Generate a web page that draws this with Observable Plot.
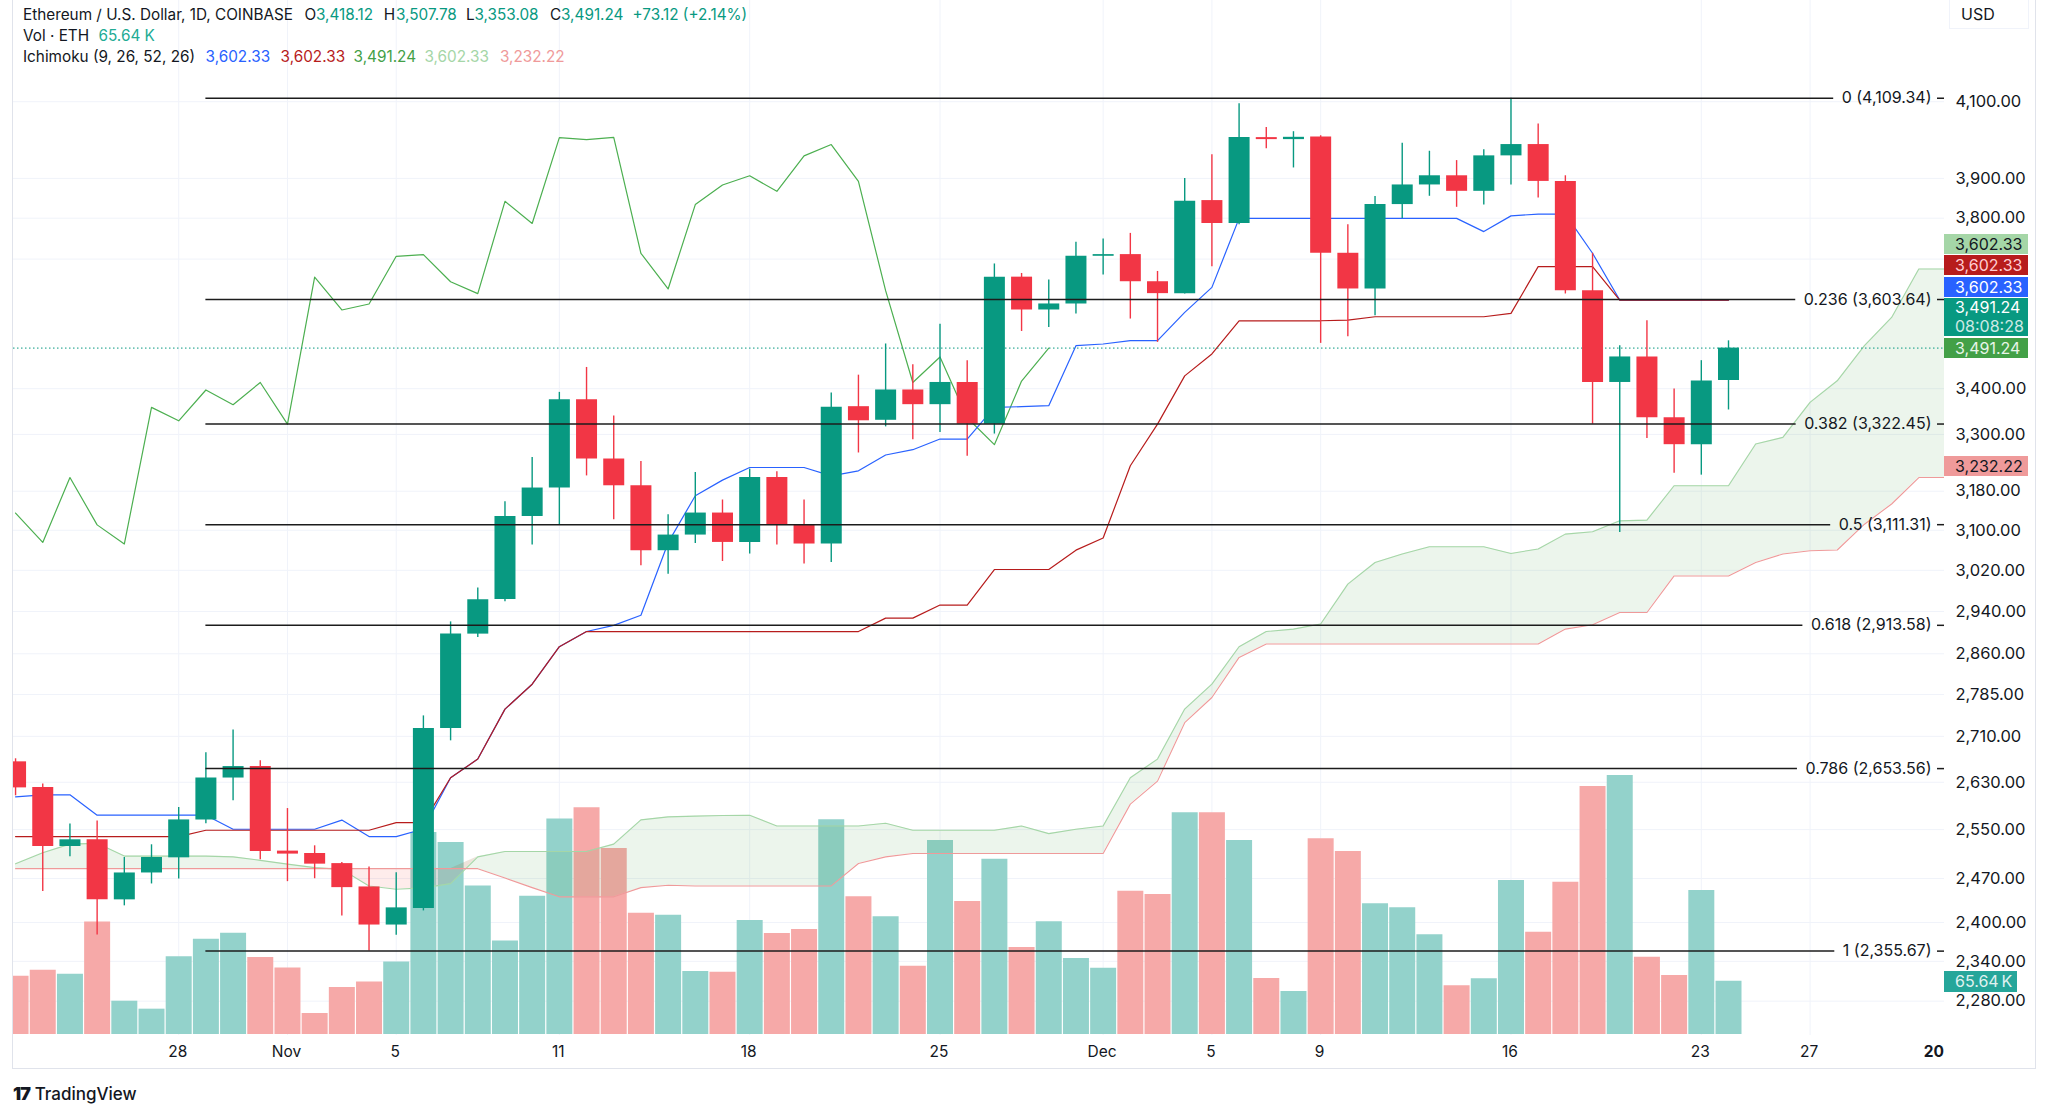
<!DOCTYPE html>
<html>
<head>
<meta charset="utf-8">
<title>Ethereum / U.S. Dollar, 1D</title>
<script src="https://cdn.jsdelivr.net/npm/d3@7"></script>
<script src="https://cdn.jsdelivr.net/npm/@observablehq/plot@0.6"></script>
<style>
  html, body { margin: 0; padding: 0; background: #ffffff; }
  #wrap { position: relative; width: 2048px; height: 1116px; overflow: hidden; font-family: Inter, "Noto Sans", sans-serif; color: #131722; }
  #wrap > svg { position: absolute; left: 0; top: 0; }
  .t { position: absolute; white-space: nowrap; font-size: 15.3px; line-height: 20px; }
  .box { position: absolute; left: 1944px; width: 84px; box-sizing: border-box; padding-left: 11px; font-size: 16px; line-height: 20px; white-space: nowrap; }
</style>
</head>
<body>
<div id="wrap"></div>
<script>
// ---------------- DATA ----------------
const dates = d3.utcDay.range(new Date(Date.UTC(2024, 9, 22)), new Date(Date.UTC(2024, 11, 25)));     // Oct 22 .. Dec 24
const leadDates = d3.utcDay.range(new Date(Date.UTC(2024, 9, 22)), new Date(Date.UTC(2025, 0, 2)));   // Oct 22 .. Jan 1

const open = [2665.3, 2620.9, 2522.1, 2533.1, 2435.8, 2478.9, 2503.5, 2566.2, 2637.3, 2657.1,
  2514.5, 2510.6, 2494.1, 2456.4, 2396.1, 2422.0, 2723.7, 2896.9, 2963.2, 3128.0,
  3186.6, 3375.7, 3247.5, 3191.3, 3058.9, 3090.3, 3135.0, 3075.5, 3208.5, 3110.9,
  3072.3, 3360.3, 3330.6, 3397.1, 3364.7, 3413.8, 3322.2, 3656.6, 3579.1, 3593.2,
  3706.7, 3710.8, 3645.7, 3617.5, 3843.9, 3786.9, 4005.1, 3999.9, 4006.9, 3714.0,
  3628.5, 3833.9, 3883.3, 3906.6, 3867.2, 3957.7, 3987.0, 3892.3, 3624.5, 3413.8,
  3471.1, 3336.1, 3278.0, 3418.12];
const high = [2670.6, 2627.2, 2559.4, 2564.5, 2504.0, 2524.9, 2587.0, 2681.1, 2721.4, 2667.1,
  2585.3, 2523.2, 2495.8, 2488.7, 2479.4, 2746.4, 2920.1, 2985.2, 3158.3, 3250.9,
  3391.8, 3447.4, 3339.8, 3242.4, 3131.5, 3219.0, 3161.8, 3226.2, 3220.4, 3161.8,
  3390.5, 3430.1, 3500.6, 3453.5, 3546.2, 3462.7, 3688.2, 3665.4, 3649.6, 3740.7,
  3748.9, 3762.5, 3670.2, 3899.9, 3960.3, 4094.4, 4031.7, 4020.6, 4010.0, 3783.6,
  3853.9, 3990.3, 3969.6, 3945.5, 3973.2, 4109.34, 4040.6, 3906.6, 3714.0, 3496.8,
  3554.0, 3399.3, 3462.7, 3507.78];
const low = [2606.9, 2449.0, 2505.1, 2380.7, 2426.3, 2461.2, 2469.2, 2559.9, 2598.4, 2500.2,
  2464.9, 2469.6, 2410.4, 2355.67, 2380.2, 2418.3, 2702.1, 2890.6, 2958.8, 3070.3,
  3110.9, 3211.9, 3121.2, 3028.9, 3012.4, 3073.5, 3037.5, 3052.3, 3070.3, 3032.3,
  3035.5, 3260.3, 3316.3, 3288.6, 3304.2, 3253.1, 3300.8, 3529.3, 3538.4, 3569.7,
  3661.5, 3558.0, 3504.3, 3616.7, 3681.7, 3783.6, 3975.8, 3926.6, 3502.0, 3517.3,
  3565.8, 3799.5, 3854.7, 3827.1, 3833.1, 3883.3, 3850.7, 3616.7, 3322.2, 3095.4,
  3291.4, 3217.7, 3213.5, 3353.08];
const close = [2620.4, 2522.1, 2533.1, 2435.8, 2478.9, 2504.0, 2566.2, 2637.3, 2657.1, 2513.9,
  2509.6, 2493.2, 2455.3, 2396.1, 2423.1, 2723.7, 2896.9, 2962.6, 3128.0, 3186.6,
  3375.7, 3247.5, 3191.3, 3058.9, 3090.3, 3135.0, 3075.5, 3208.5, 3110.9, 3072.3,
  3358.8, 3329.5, 3397.1, 3364.7, 3413.8, 3322.2, 3656.6, 3579.1, 3593.2, 3706.7,
  3710.8, 3645.7, 3617.5, 3842.1, 3786.9, 4005.1, 3999.9, 4005.9, 3714.0, 3628.5,
  3833.9, 3883.3, 3906.6, 3867.2, 3957.7, 3987.0, 3892.3, 3624.5, 3413.8, 3471.1,
  3336.1, 3278.0, 3416.9, 3491.24];
const volumeK = [71.8, 79.2, 74.3, 138.7, 41.0, 31.2, 95.6, 117.4, 124.8, 94.8,
  82.0, 25.9, 57.9, 64.8, 89.4, 248.8, 236.4, 183.0, 115.3, 170.3,
  265.5, 279.1, 229.1, 149.4, 146.9, 77.6, 76.7, 140.4, 124.4, 129.3,
  264.4, 169.6, 144.9, 84.1, 238.9, 163.8, 215.9, 107.1, 138.8, 93.6,
  81.6, 176.5, 172.4, 273.0, 273.0, 238.9, 69.0, 53.0, 241.0, 225.4,
  161.0, 156.0, 122.8, 60.0, 68.6, 189.7, 126.0, 187.6, 305.4, 319.0,
  95.2, 72.7, 177.3, 65.64];

// Ichimoku (9, 26, 52, 26)
const conversion = [2605.2, 2608.6, 2608.6, 2574.1, 2574.1, 2574.1, 2574.1, 2574.1, 2550.6, 2550.6,
  2550.6, 2550.6, 2565.9, 2538.5, 2538.5, 2551.0, 2637.8, 2670.1, 2758.6, 2803.8,
  2873.2, 2901.8, 2913.6, 2932.9, 3075.0, 3170.7, 3203.1, 3229.6, 3229.6, 3229.6,
  3211.9, 3222.6, 3256.0, 3267.3, 3290.1, 3290.1, 3358.8, 3360.3, 3362.5, 3496.8,
  3500.6, 3508.2, 3508.2, 3573.5, 3632.3, 3799.5, 3799.5, 3799.5, 3799.5, 3799.5,
  3799.5, 3799.5, 3799.5, 3799.5, 3766.9, 3805.7, 3810.3, 3810.0, 3714.0, 3602.33,
  3602.33, 3602.33, 3602.33, 3602.33];
const baseLine = [2538.5, 2538.5, 2538.5, 2538.5, 2538.5, 2538.5, 2538.5, 2549.0, 2549.0, 2549.0,
  2549.0, 2549.0, 2549.0, 2549.0, 2561.6, 2561.6, 2637.8, 2670.1, 2758.6, 2803.8,
  2873.2, 2901.8, 2901.8, 2901.8, 2901.8, 2901.8, 2901.8, 2901.8, 2901.8, 2901.8,
  2901.8, 2901.8, 2927.3, 2927.3, 2952.4, 2952.4, 3021.6, 3021.6, 3021.6, 3060.0,
  3084.3, 3233.2, 3322.2, 3428.5, 3477.9, 3554.0, 3554.0, 3554.0, 3554.0, 3555.6,
  3563.4, 3563.4, 3563.4, 3563.4, 3563.4, 3571.2, 3681.7, 3681.7, 3681.7, 3602.33,
  3602.33, 3602.33, 3602.33, 3602.33];
const leadA = [2493.7, 2511.7, 2526.0, 2527.3, 2506.3, 2506.3, 2506.3, 2506.3, 2505.1, 2499.4,
  2493.2, 2487.6, 2484.6, 2458.0, 2452.8, 2454.9, 2461.7, 2505.1, 2513.9, 2513.9,
  2513.9, 2513.9, 2526.0, 2566.2, 2571.3, 2572.5, 2573.5, 2574.1, 2556.0, 2556.0,
  2556.0, 2556.0, 2560.6, 2549.0, 2549.0, 2549.0, 2549.0, 2556.0, 2543.4, 2550.6,
  2556.0, 2637.8, 2670.1, 2758.6, 2803.8, 2873.2, 2901.8, 2906.4, 2916.0, 2993.0,
  3035.5, 3052.3, 3066.9, 3066.9, 3066.9, 3053.5, 3062.3, 3092.2, 3096.9, 3119.1,
  3120.6, 3191.3, 3191.3, 3191.3, 3279.5, 3293.6, 3369.8, 3417.5, 3496.8, 3561.8,
  3676.1, 3676.1];
const leadB = [2485.9, 2485.9, 2485.9, 2485.9, 2485.9, 2485.9, 2485.9, 2485.9, 2485.9, 2485.9,
  2485.9, 2485.9, 2485.9, 2485.9, 2485.9, 2485.9, 2485.9, 2485.9, 2470.7, 2455.3,
  2440.6, 2440.6, 2440.6, 2455.3, 2459.1, 2458.0, 2458.0, 2458.0, 2458.0, 2458.0,
  2458.0, 2494.2, 2505.1, 2510.6, 2510.6, 2510.6, 2510.6, 2510.6, 2510.6, 2510.6,
  2510.6, 2592.8, 2632.0, 2734.3, 2779.6, 2853.2, 2878.2, 2878.2, 2878.2, 2878.2,
  2878.2, 2878.2, 2878.2, 2878.2, 2878.2, 2878.2, 2878.2, 2906.4, 2914.7, 2938.1,
  2938.1, 3009.0, 3009.0, 3009.0, 3035.5, 3052.3, 3058.9, 3060.3, 3112.3, 3153.6,
  3208.5, 3208.5];
const leadALast = 3602.33;   // value at the end of the forward-shifted span (header)
const leadBLast = 3232.22;
const LAG = 25;              // lagging span is drawn 25 bars back

// Fibonacci retracement
const fibLevels = ["0", "0.236", "0.382", "0.5", "0.618", "0.786", "1"];
const fibPrices = [4109.34, 3603.64, 3322.45, 3111.31, 2913.58, 2653.56, 2355.67];
const fibStart = new Date(Date.UTC(2024, 9, 29));

// Axes
const priceTicks = [4100, 3900, 3800, 3400, 3300, 3180, 3100, 3020, 2940, 2860, 2785, 2710, 2630, 2550, 2470, 2400, 2340, 2280];
const gridPrices = [4100, 3900, 3800, 3700, 3400, 3300, 3180, 3100, 3020, 2940, 2860, 2785, 2710, 2630, 2550, 2470, 2400, 2340, 2280];
const xTickDates = ["2024-10-28", "2024-11-01", "2024-11-05", "2024-11-11", "2024-11-18", "2024-11-25",
  "2024-12-01", "2024-12-05", "2024-12-09", "2024-12-16", "2024-12-23", "2024-12-27", "2025-01-01"];
const xTickLabels = ["28", "Nov", "5", "11", "18", "25", "Dec", "5", "9", "16", "23", "27", "20"];

// ---------------- LAYOUT / STYLE ----------------
const W = 2048, H = 1116;
const M = {top: 0, right: 104, bottom: 81, left: 13};
const UP = "#089981", DOWN = "#f23645";
const VOL_UP = "#93d2cb", VOL_DOWN = "#f6a9a8";
const FONT = "Inter, 'Noto Sans', sans-serif";
const FIB_FONT = 16, AXIS_FONT = 16.5, TIME_FONT = 15.5;

const xOpts = {type: "utc", domain: [new Date(Date.UTC(2024, 9, 28)), new Date(Date.UTC(2024, 11, 24))], range: [178.2, 1728], axis: null};
const yOpts = {type: "log", domain: [2229.5, 4379.9], range: [1035, 0], axis: null};
const vOpts = {type: "linear", domain: [0, 400], range: [1034, 709.2], axis: null};

const candles = dates.map((date, i) => ({date, open: open[i], high: high[i], low: low[i], close: close[i], vol: volumeK[i], up: close[i] >= open[i]}));
const ichi = dates.map((date, i) => ({date, conv: conversion[i], base: baseLine[i]}));
const lead = leadDates.map((date, i) => ({date, a: leadA[i], b: leadB[i]}));
const lagging = dates.slice(0, dates.length - LAG).map((date, i) => ({date, value: close[i + LAG]}));
const xTicks = xTickDates.map((s, i) => ({date: new Date(s + "T00:00:00Z"), label: xTickLabels[i], bold: i === xTickDates.length - 1}));

const fmt2 = d3.format(",.2f");
const fib = fibLevels.map((lv, i) => ({level: lv, price: fibPrices[i], label: `${lv} (${fmt2(fibPrices[i])})`}));

// fib line segments: gap where the label sits
const xScale = Plot.scale({x: {type: "utc", domain: xOpts.domain, range: xOpts.range}});
const ctx = document.createElement("canvas").getContext("2d");
ctx.font = `${FIB_FONT}px Inter`;
const frameRight = W - M.right;
const labelRight = frameRight - 13;
const fibSegs = [];
fib.forEach(f => {
  const w = ctx.measureText(f.label).width;
  fibSegs.push({price: f.price, x1: fibStart, x2: xScale.invert(labelRight - w - 8)});
  fibSegs.push({price: f.price, x1: xScale.invert(labelRight + 6), x2: xScale.invert(frameRight)});
});

const common = {width: W, height: H, marginTop: M.top, marginRight: M.right, marginBottom: M.bottom, marginLeft: M.left, x: xOpts, color: {type: "identity"}};

// Layer 1: grid
const gridPlot = Plot.plot({...common, y: yOpts, style: {background: "#ffffff", fontFamily: FONT}, marks: [
  Plot.ruleY(gridPrices, {y: d => d, stroke: "#f0f3fa", strokeWidth: 1}),
  Plot.ruleX(xTicks.slice(0, -1), {x: "date", stroke: "#f0f3fa", strokeWidth: 1})
]});

// Layer 2: volume
const volPlot = Plot.plot({...common, y: vOpts, style: {background: "transparent", fontFamily: FONT}, marks: [
  Plot.ruleX(candles, {x: "date", y1: 0, y2: "vol", stroke: d => d.up ? VOL_UP : VOL_DOWN, strokeWidth: 26, clip: true})
]});

// Layer 3: price, ichimoku, fib, axes
const mainPlot = Plot.plot({...common, y: yOpts, style: {background: "transparent", fontFamily: FONT, overflow: "visible"}, marks: [
  Plot.area(lead, {x1: "date", y1: d => d.b, y2: d => Math.max(d.a, d.b), fill: "rgba(67,160,71,0.10)", clip: true}),
  Plot.area(lead, {x1: "date", y1: d => d.a, y2: d => Math.max(d.a, d.b), fill: "rgba(244,67,54,0.10)", clip: true}),
  Plot.line(lead, {x: "date", y: "a", stroke: "#a5d6a7", strokeWidth: 1.1, clip: true}),
  Plot.line(lead, {x: "date", y: "b", stroke: "#ef9a9a", strokeWidth: 1.1, clip: true}),
  Plot.line(lagging, {x: "date", y: "value", stroke: "#4caf50", strokeWidth: 1.2, clip: true}),
  Plot.line(ichi, {x: "date", y: "conv", stroke: "#2962ff", strokeWidth: 1.2, clip: true}),
  Plot.line(ichi, {x: "date", y: "base", stroke: "#b71c1c", strokeWidth: 1.2, clip: true}),
  Plot.ruleY([close[close.length - 1]], {stroke: UP, strokeWidth: 1, strokeDasharray: "1.5,2.5"}),
  Plot.ruleX(candles, {x: "date", y1: "low", y2: "high", stroke: d => d.up ? UP : DOWN, strokeWidth: 1.4, clip: true}),
  Plot.ruleX(candles, {x: "date", y1: "open", y2: "close", stroke: d => d.up ? UP : DOWN, strokeWidth: 21, clip: true}),
  Plot.ruleY(fibSegs, {y: "price", x1: "x1", x2: "x2", stroke: "#1c1c1c", strokeWidth: 1.5}),
  Plot.text(fib, {y: "price", text: "label", frameAnchor: "right", textAnchor: "end", dx: -13, fontSize: FIB_FONT, fill: "#131722"}),
  Plot.text(priceTicks, {y: d => d, text: d => fmt2(d), frameAnchor: "right", textAnchor: "start", dx: 11, fontSize: AXIS_FONT, fill: "#131722"}),
  Plot.text(xTicks.filter(d => !d.bold), {x: "date", text: "label", frameAnchor: "bottom", dy: 21, dx: -1, fontSize: TIME_FONT, fill: "#131722"}),
  Plot.text(xTicks.filter(d => d.bold), {x: "date", text: "label", frameAnchor: "bottom", dy: 21, dx: -2, textAnchor: "end", fontSize: TIME_FONT, fontWeight: 700, fill: "#131722"})
]});

const wrap = document.getElementById("wrap");
wrap.appendChild(gridPlot);
wrap.appendChild(volPlot);
wrap.appendChild(mainPlot);

// ---------------- HTML overlays ----------------
function addText(x, yc, html, style = "") {
  const d = document.createElement("div");
  d.className = "t";
  d.style.cssText = `left:${x}px;top:${yc - 10}px;${style}`;
  d.innerHTML = html;
  wrap.appendChild(d);
}
const G = "color:#089981";
// header line 1
addText(23, 15, "Ethereum / U.S. Dollar, 1D, COINBASE");
addText(304.6, 15, "O"); addText(316, 15, fmt2(open[63]), G);
addText(383.7, 15, "H"); addText(396, 15, fmt2(high[63]), G);
addText(466, 15, "L"); addText(474.5, 15, fmt2(low[63]), G);
addText(550, 15, "C"); addText(561, 15, fmt2(close[63]), G);
addText(632.6, 15, "+73.12 (+2.14%)", G);
// header line 2
addText(23, 35.7, "Vol · ETH");
addText(98.5, 35.7, "65.64 K", "color:#22ab94");
// header line 3
addText(23, 57.3, "Ichimoku (9, 26, 52, 26)");
addText(205.6, 57.3, fmt2(conversion[63]), "color:#2962ff");
addText(280.6, 57.3, fmt2(baseLine[63]), "color:#b71c1c");
addText(353.6, 57.3, fmt2(close[63]), "color:#43a047");
addText(424.5, 57.3, fmt2(leadALast), "color:#a5d6a7");
addText(500, 57.3, fmt2(leadBLast), "color:#ef9a9a");

// USD box
const usd = document.createElement("div");
usd.style.cssText = "position:absolute;left:1949px;top:0;width:80px;height:29px;border:1px solid #f0f3fa;border-top:none;box-sizing:border-box;font-size:16px;line-height:29px;padding-left:11px;";
usd.textContent = "USD";
wrap.appendChild(usd);

// price-axis label boxes
const yS = mainPlot.scale("y");
const vS = volPlot.scale("y");
function addBox(top, h, bg, fg, lines, width = 84) {
  const d = document.createElement("div");
  d.className = "box";
  d.style.cssText = `top:${top}px;height:${h}px;background:${bg};color:${fg};width:${width}px;`;
  d.innerHTML = lines.map((l, i) => `<div style="line-height:${h / lines.length}px;${i ? "opacity:0.8" : ""}">${l}</div>`).join("");
  wrap.appendChild(d);
}
const stack = [
  {v: close[63], h: 20, bg: "#43a047", fg: "#e8f5e9", lines: [fmt2(close[63])]},
  {v: close[63], h: 38, bg: "#089981", fg: "#ffffff", lines: [fmt2(close[63]), "08:08:28"]},
  {v: conversion[63], h: 20, bg: "#2962ff", fg: "#ffffff", lines: [fmt2(conversion[63])]},
  {v: baseLine[63], h: 20, bg: "#b71c1c", fg: "#ffcdd2", lines: [fmt2(baseLine[63])]},
  {v: leadALast, h: 20, bg: "#a5d6a7", fg: "#131722", lines: [fmt2(leadALast)]}
];
let prevTop = Infinity;
stack.forEach(s => {
  const natural = yS.apply(s.v) - 10;
  const top = Math.min(natural, prevTop - 1.5 - s.h);
  addBox(top, s.h, s.bg, s.fg, s.lines);
  prevTop = top;
});
addBox(yS.apply(leadBLast) - 10, 20, "#ef9a9a", "#131722", [fmt2(leadBLast)]);
addBox(vS.apply(volumeK[63]) - 10, 21, "#26a69a", "#e0f2f1", ["65.64\u2009K"], 73);

// frame borders
function addLine(css) { const d = document.createElement("div"); d.style.cssText = "position:absolute;background:#e0e3eb;" + css; wrap.appendChild(d); }
addLine("left:12px;top:0;width:1px;height:1068px;");
addLine("left:2035px;top:0;width:1px;height:1068px;");
addLine("left:12px;top:1068px;width:2024px;height:1px;");

// logo
const logo = document.createElement("div");
logo.className = "t";
logo.style.cssText = "left:13px;top:1084px;font-size:17px;";
logo.innerHTML = `<span style="font-weight:900;letter-spacing:-1px;font-size:18px">17</span> <span style="font-weight:500">TradingView</span>`;
wrap.appendChild(logo);
</script>
</body>
</html>
